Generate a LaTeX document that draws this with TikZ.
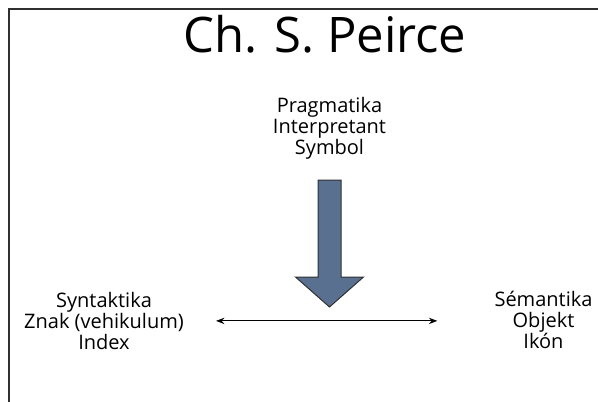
\documentclass[tikz,border=0pt]{standalone}
\usepackage{fontspec}
\setmainfont{Open Sans}
\usetikzlibrary{arrows.meta}
\usetikzlibrary{calc,positioning}
\definecolor{arrowblue}{HTML}{5A7090}
\definecolor{framegray}{HTML}{303030}

\begin{document}
\begin{tikzpicture}[x=1pt,y=-1pt,>=Stealth,
    term/.style={align=center, inner sep=0pt, anchor=north,
        font=\fontsize{20}{21}\selectfont}]

    \useasboundingbox (0,0) rectangle (598,402);
    \draw[framegray, line width=1.2pt] (9,402) -- (9,9) -- (598,9);

    \node[inner sep=0pt, anchor=base, font=\fontsize{49}{50}\selectfont] (title) at (325,52) {Ch. S. Peirce};

    \node[term] (pragma) at (329.5,97) {Pragmatika\\Interpretant\\Symbol};
    \node[term] (syntax) at (104,292) {Syntaktika\\Znak (vehikulum)\\Index};
    \node[term] (semantic) at (543.5,291) {Sémantika\\Objekt\\Ikón};

    % big arrow below the pragmatics
    \coordinate (tip) at (329.5,307);
    \filldraw[fill=arrowblue, draw=framegray, line width=1pt, line join=miter]
        (318,180) -- (341,180) -- (341,277) -- (363.5,277) -- (tip)
        -- (295.5,277) -- (318,277) -- cycle;

    \draw[<->, line width=1.2pt, shorten <=32pt, shorten >=57pt] (syntax.east) -- (syntax.east -| semantic.west);

\end{tikzpicture}
\end{document}
